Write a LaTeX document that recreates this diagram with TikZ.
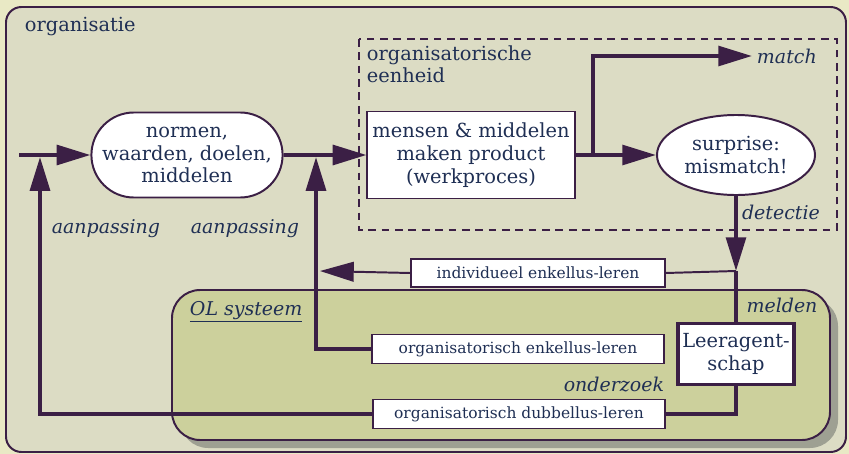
\documentclass[tikz,border=0pt]{standalone}
\usepackage{fontspec}
\setmainfont{DejaVu Serif}
\usetikzlibrary{arrows.meta, positioning, shapes.geometric, shapes.misc}
\definecolor{linecol}{RGB}{59,31,69}
\definecolor{textcol}{RGB}{31,47,84}
\definecolor{bgcol}{RGB}{233,233,197}
\definecolor{orgcol}{RGB}{220,220,196}
\definecolor{olcol}{RGB}{204,208,156}
\definecolor{shadowcol}{RGB}{158,160,146}
\tikzset{
  bigtext/.style={font=\fontsize{13.8}{16.3}\selectfont, text=textcol, align=center},
  labeltext/.style={font=\fontsize{13.5}{16}\selectfont\itshape, text=textcol},
  learnbox/.style={
    rectangle,
    draw=linecol,
    line width=1.4pt,
    fill=white,
    font=\fontsize{11}{13}\selectfont,
    text=textcol,
    inner sep=0pt
  },
  flow/.style={
    draw=linecol,
    line width=2.8pt,
    -{Triangle[length=24pt,width=14pt]}
  },
  thickline/.style={draw=linecol, line width=2.8pt},
  thinline/.style={draw=linecol, line width=1.4pt}
}

\begin{document}
\begin{tikzpicture}[x=0.025cm, y=-0.025cm]
\useasboundingbox (0,0) rectangle (849,454);
\fill[bgcol] (0,0) rectangle (849,454);

% --- frames ---
\draw[thinline, fill=orgcol, rounded corners=11pt] (6,7) rectangle (846,452);
\node[bigtext, anchor=west] (orglabel) at (20,27) {organisatie};
\draw[thinline, dash pattern=on 5.5pt off 4pt] (359,39) rectangle (837,230);
\node[bigtext, anchor=north west, align=left] (eenheid) at (362,41) {organisatorische\\[-1pt]eenheid};

\fill[shadowcol, rounded corners=20pt] (180,298) rectangle (838,448);
\draw[thinline, fill=olcol, rounded corners=20pt] (172,290) rectangle (830,440);
\node[labeltext, anchor=west] (olsys) at (185,312) {\underline{OL systeem}};

% --- main row ---
\node (normen) [rounded rectangle, draw=linecol, line width=1.4pt, fill=white, bigtext, minimum width=4.5cm, minimum height=2.125cm, inner xsep=0pt] at (187,155) {normen,\\waarden, doelen,\\middelen};
\node (werk) [rectangle, draw=linecol, line width=1.4pt, fill=white, bigtext, minimum width=5.175cm, minimum height=2.175cm] at (471,155) {mensen \& middelen\\maken product\\(werkproces)};
\node (surprise) [ellipse, draw=linecol, line width=1.4pt, fill=white, bigtext, minimum width=3.95cm, minimum height=2cm, inner sep=0pt] at (736,155) {surprise:\\mismatch!};
\node (match) [labeltext, anchor=west] at (752,56) {match};

% --- learning boxes ---
\node (indiv) [learnbox, minimum width=6.325cm, minimum height=0.7cm] at (538,273) {individueel enkellus-leren};
\node (orgenkel) [learnbox, minimum width=7.275cm, minimum height=0.725cm] at (518,349) {organisatorisch enkellus-leren};
\node (dubbel) [learnbox, minimum width=7.275cm, minimum height=0.725cm] at (519,414) {organisatorisch dubbellus-leren};
\node (leer) [rectangle, draw=linecol, line width=2.8pt, fill=white, bigtext, minimum width=2.9cm, minimum height=1.525cm, inner sep=1pt] at (736,354) {Leeragent-\\schap};

% --- labels ---
\node (aanp1) [labeltext] at (106,229) {aanpassing};
\node (aanp2) [labeltext] at (245,229) {aanpassing};
\node (detectie) [labeltext] at (781,212) {detectie};
\node (melden) [labeltext] at (782,305) {melden};
\node (onderzoek) [labeltext, anchor=east] at (669,385) {onderzoek};

% --- coordinates ---
\coordinate (start) at (19,155);
\coordinate (in1) at (40,157);
\coordinate (in2) at (316,157);
\coordinate (split) at (593,155);
\coordinate (meet) at (736,271);
\coordinate (indtip) at (320,271);

% --- arrows ---
\draw[flow] (start) -- (normen);
\draw[flow] (normen) -- (werk);
\draw[flow] (werk) -- (surprise);
\draw[flow] (split) |- (match.west);
\draw[flow] (surprise) -- (meet);
\draw[thickline] (meet) -- (leer.north);
\draw[thinline] (indiv.east) -- (meet);
\draw[thinline, -{Triangle[length=24pt,width=14pt]}] (indiv.west) -- (indtip);
\draw[thickline] (leer.south) |- (dubbel.east);
\draw[flow] (dubbel.west) -| (in1);
\draw[flow] (orgenkel.west) -| (in2);

\end{tikzpicture}
\end{document}
